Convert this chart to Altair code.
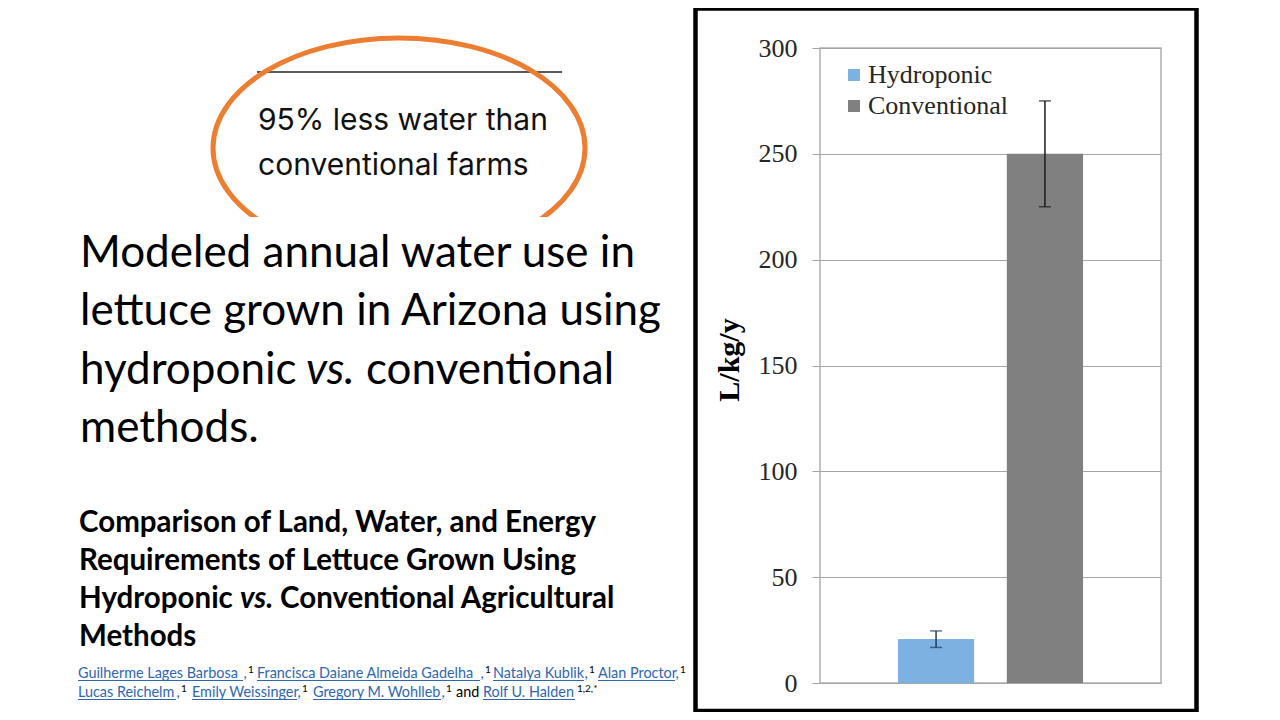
import altair as alt
import pandas as pd

# ---------------- data ----------------
categories = ["Hydroponic", "Conventional"]
water_use = [20.8, 250.0]        # L/kg/y
err_low = [16.8, 225.0]
err_high = [24.6, 275.0]
y_ticks = [0, 50, 100, 150, 200, 250, 300]

# ---------------- layout helpers (page pixels -> plot coords) ----------------
OX, OY = 820, 48          # page position of plot-area origin
W, H = 341, 635


def px(x):
    return x - OX


def py(y):
    return y - OY


SERIF = "Liberation Serif"
SANS = "Lato"
BLUE = "#7DB1E2"
GRAY = "#808080"
GRID = "#A6A6A6"
LINK = "#2F66B3"

df = pd.DataFrame({"cat": categories, "val": water_use, "lo": err_low, "hi": err_high})
one = pd.DataFrame({"k": [0]})

x_enc = alt.X("cat:N", sort=categories,
              scale=alt.Scale(domain=categories, paddingInner=0.3, paddingOuter=0.716),
              axis=None)
y_scale = alt.Scale(domain=[0, 300], nice=False)
y_axis = alt.Axis(values=y_ticks, title=None, grid=True, gridColor=GRID, gridWidth=1,
                  tickColor=GRID, tickSize=8, tickWidth=1, domain=False,
                  labelFont=SERIF, labelFontSize=26, labelColor="#262626",
                  labelPadding=15)

bars = alt.Chart(df).mark_bar().encode(
    x=x_enc,
    y=alt.Y("val:Q", scale=y_scale, axis=y_axis),
    color=alt.Color("cat:N", sort=categories,
                    scale=alt.Scale(domain=categories, range=[BLUE, GRAY]),
                    legend=alt.Legend(orient="none", legendX=21, legendY=14, title=None,
                                      labelFont=SERIF, labelFontSize=26, labelColor="#262626",
                                      symbolType="square", symbolSize=144, symbolStrokeWidth=0,
                                      labelOffset=1, rowPadding=5, padding=0)),
)

err_color = alt.condition(alt.datum.cat == "Hydroponic", alt.value("#1F3A5F"), alt.value("#1A1A1A"))
err_rule = alt.Chart(df).mark_rule(strokeWidth=1.5).encode(
    x=x_enc, y=alt.Y("lo:Q", scale=y_scale, axis=y_axis), y2="hi:Q", color=err_color)
cap_hi = alt.Chart(df).mark_tick(size=12, thickness=1.5).encode(
    x=x_enc, y=alt.Y("hi:Q", scale=y_scale, axis=y_axis), color=err_color)
cap_lo = alt.Chart(df).mark_tick(size=12, thickness=1.5).encode(
    x=x_enc, y=alt.Y("lo:Q", scale=y_scale, axis=y_axis), color=err_color)


def txt(t, x, y, font=SANS, size=16, weight="normal", style="normal", color="black",
        align="left", baseline="alphabetic", angle=0):
    return alt.Chart(one).mark_text(
        text=t, font=font, fontSize=size, fontWeight=weight, fontStyle=style, color=color,
        align=align, baseline=baseline, angle=angle
    ).encode(x=alt.value(px(x)), y=alt.value(py(y)))


def hrule(x1, x2, y, color, width):
    return alt.Chart(one).mark_rule(color=color, strokeWidth=width).encode(
        x=alt.value(px(x1)), x2=alt.value(px(x2)), y=alt.value(py(y)))


def box(x1, x2, y1, y2, **kw):
    return alt.Chart(one).mark_rect(**kw).encode(
        x=alt.value(px(x1)), x2=alt.value(px(x2)), y=alt.value(py(y1)), y2=alt.value(py(y2)))


layers = []

# chart frame
layers.append(box(695.5, 1196.5, 8.5, 711, fillOpacity=0, stroke="black", strokeWidth=4.5))

# top-left clipping: line, ellipse, cover, text
layers.append(hrule(257, 562, 72, "#222222", 1.5))
k = 0.5523
r = 110 / 186
ky = k * r
ell_path = (f"M -1 0 C -1 {-ky:.4f} {-k} {-r:.4f} 0 {-r:.4f} "
            f"C {k} {-r:.4f} 1 {-ky:.4f} 1 0 "
            f"C 1 {ky:.4f} {k} {r:.4f} 0 {r:.4f} "
            f"C {-k} {r:.4f} -1 {ky:.4f} -1 0 Z")
layers.append(alt.Chart(one).mark_point(shape=ell_path, size=372 ** 2, filled=False,
                                        stroke="#ED7D31", strokeWidth=5, opacity=1).encode(
    x=alt.value(px(399)), y=alt.value(py(148))))
layers.append(box(190, 610, 217, 264, fill="white", strokeWidth=0))
layers.append(txt("95% less water than", 258, 130, font="Inter", size=30, color="#111111"))
layers.append(txt("conventional farms", 258, 175, font="Inter", size=30, color="#111111"))

# slide title
TS = 44
layers.append(txt("Modeled annual water use in", 80, 267, size=TS))
layers.append(txt("lettuce grown in Arizona using", 80, 325, size=TS))
layers.append(txt("hydroponic", 80, 384, size=TS))
layers.append(txt("vs.", 306, 384, size=TS, style="italic"))
layers.append(txt("conventional", 366, 384, size=TS))
layers.append(txt("methods.", 80, 442, size=TS))

# paper title
BS = 29.5
layers.append(txt("Comparison of Land, Water, and Energy", 79, 532, size=BS, weight="bold"))
layers.append(txt("Requirements of Lettuce Grown Using", 79, 570, size=BS, weight="bold"))
layers.append(txt("Hydroponic", 79, 608, size=BS, weight="bold"))
layers.append(txt("vs.", 240, 608, size=BS, weight="bold", style="italic"))
layers.append(txt("Conventional Agricultural", 280, 608, size=BS, weight="bold"))
layers.append(txt("Methods", 79, 646, size=BS, weight="bold"))

# authors
AS = 14.4
authors = [
    ("Guilherme  Lages Barbosa", 78, 243, 678, "1"),
    ("Francisca Daiane Almeida Gadelha", 257, 480, 678, "1"),
    ("Natalya Kublik", 493, 584, 678, "1"),
    ("Alan Proctor", 598, 675, 678, "1"),
    ("Lucas Reichelm", 78, 176, 697, "1"),
    ("Emily Weissinger", 192, 297, 697, "1"),
    ("Gregory M. Wohlleb", 313, 441, 697, "1"),
    ("Rolf U. Halden", 483, 575, 697, "1,2,*"),
]
for name, x1, x2, base, sup in authors:
    layers.append(txt(name, x1, base, size=AS, color=LINK))
    layers.append(hrule(x1, x2, base + 2.5, LINK, 1))
    if sup == "1":
        layers.append(txt(",", x2 + 0.5, base, size=AS, color=LINK))
        layers.append(txt(sup, x2 + 5, base - 5, size=10, color="black"))
    else:
        layers.append(txt(sup, x2 + 2, base - 5, size=10, color="black"))
layers.append(txt("and", 456, 697, size=AS, color="black"))

# y axis title
layers.append(txt("L/kg/y", 730, 360, font=SERIF, size=30, weight="bold", color="black",
                  align="center", baseline="middle", angle=270))

chart = alt.layer(bars, err_rule, cap_hi, cap_lo, *layers).properties(
    width=W, height=H,
    autosize=alt.AutoSizeParams(type="none"),
    padding={"left": OX - 8, "top": OY - 8, "right": 1264 - (OX - 8) - W, "bottom": 704 - (OY - 8) - H},
    background="white",
).configure_view(stroke="#B0B0B0", strokeWidth=1.5)

chart.save("out.html", embed_options={"renderer": "svg", "actions": False})
